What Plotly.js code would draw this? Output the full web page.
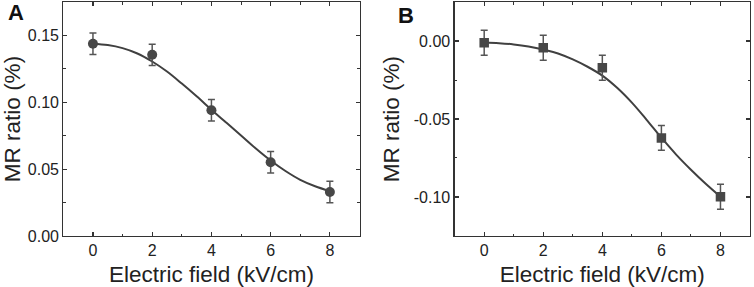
<!DOCTYPE html>
<html>
<head>
<meta charset="utf-8">
<script src="https://cdn.plot.ly/plotly-3.0.1.min.js"></script>
<style>html,body{margin:0;padding:0;background:#fff;}#chart{width:754px;height:287px;}</style>
</head>
<body>
<div id="chart"></div>
<script>
// ---- data ----
const fieldX = [0, 2, 4, 6, 8];
const mrA = [0.1438, 0.1355, 0.0940, 0.0552, 0.0329];
const errA = [0.008, 0.008, 0.008, 0.008, 0.008];
const mrB = [-0.0011, -0.0043, -0.0172, -0.0621, -0.0998];
const errB = [0.008, 0.008, 0.008, 0.008, 0.008];

const fitX = [0, 0.5, 1, 1.5, 2, 2.5, 3, 3.5, 4, 4.5, 5, 5.5, 6, 6.5, 7, 7.5, 8];
const fitA = [0.1438, 0.1428, 0.1405, 0.1365, 0.1305, 0.1230, 0.1140, 0.1045, 0.0945, 0.0848, 0.0752, 0.0655, 0.0565, 0.0486, 0.0420, 0.0372, 0.0336];
const fitB = [-0.0010, -0.0014, -0.0022, -0.0035, -0.0054, -0.0080, -0.0118, -0.0165, -0.0222, -0.0300, -0.0395, -0.0505, -0.0620, -0.0728, -0.0825, -0.0915, -0.0998];

const xTickVals = [0, 2, 4, 6, 8];
const xTickText = ['0', '2', '4', '6', '8'];
const yTickValsA = [0, 0.05, 0.10, 0.15];
const yTickTextA = ['0.00', '0.05', '0.10', '0.15'];
const yTickValsB = [-0.10, -0.05, 0.00];
const yTickTextB = ['-0.10', '-0.05', '0.00'];

const xTitle = 'Electric field (kV/cm)';
const yTitle = 'MR ratio (%)';
const panelLabels = ['A', 'B'];

// ---- style ----
const FONT = 'Liberation Sans, Arial, sans-serif';
const markColor = '#474747';
const lineColor = '#404040';
const axColor = '#333333';

const traces = [
  {x: fitX, y: fitA, xaxis: 'x', yaxis: 'y', mode: 'lines', line: {color: lineColor, width: 2, shape: 'spline'}, hoverinfo: 'skip'},
  {x: fieldX, y: mrA, xaxis: 'x', yaxis: 'y', mode: 'markers',
   marker: {symbol: 'circle', size: 10, color: markColor},
   error_y: {type: 'data', array: errA, visible: true, color: '#555555', thickness: 1.5, width: 3.5}},
  {x: fitX, y: fitB, xaxis: 'x2', yaxis: 'y2', mode: 'lines', line: {color: lineColor, width: 2, shape: 'spline'}, hoverinfo: 'skip'},
  {x: fieldX, y: mrB, xaxis: 'x2', yaxis: 'y2', mode: 'markers',
   marker: {symbol: 'square', size: 9.5, color: markColor},
   error_y: {type: 'data', array: errB, visible: true, color: '#555555', thickness: 1.5, width: 3.5}}
];

function xAxis(domain, anchor) {
  return {
    domain: domain, anchor: anchor, range: [-1, 9],
    tickmode: 'array', tickvals: xTickVals, ticktext: xTickText,
    ticks: 'inside', ticklen: 4, tickwidth: 1.2, tickcolor: axColor,
    minor: {dtick: 1, tick0: 1, ticks: 'inside', ticklen: 2.5, tickwidth: 1, tickcolor: axColor, showgrid: false},
    showline: true, linecolor: axColor, linewidth: 1.2, mirror: 'ticks',
    showgrid: false, zeroline: false,
    tickfont: {family: FONT, size: 16, color: '#222'},
    title: {text: xTitle, font: {family: FONT, size: 22.5, color: '#222'}}
  };
}
function yAxis(domain, anchor, range, vals, text, dt0) {
  return {
    domain: domain, anchor: anchor, range: range,
    tickmode: 'array', tickvals: vals, ticktext: text,
    ticks: 'inside', ticklen: 4, tickwidth: 1.2, tickcolor: axColor,
    minor: {dtick: 0.025, tick0: dt0, ticks: 'inside', ticklen: 2.5, tickwidth: 1, tickcolor: axColor, showgrid: false},
    showline: true, linecolor: axColor, linewidth: 1.2, mirror: 'ticks',
    showgrid: false, zeroline: false,
    tickfont: {family: FONT, size: 16, color: '#222'},
    title: {text: yTitle, font: {family: FONT, size: 22.5, color: '#222'}, standoff: 8}
  };
}

const H = 287, W = 754;
const yDom = [0.1777, 0.993];
const layout = {
  width: W, height: H,
  margin: {l: 0, r: 0, t: 0, b: 0},
  paper_bgcolor: '#ffffff', plot_bgcolor: '#ffffff',
  showlegend: false,
  xaxis: xAxis([0.084, 0.4768], 'y'),
  yaxis: yAxis(yDom, 'x', [0, 0.175], yTickValsA, yTickTextA, 0.025),
  xaxis2: xAxis([0.603, 0.9947], 'y2'),
  yaxis2: yAxis(yDom, 'x2', [-0.125, 0.025], yTickValsB, yTickTextB, -0.125),
  annotations: [
    {text: '<b>' + panelLabels[0] + '</b>', xref: 'paper', yref: 'paper', x: 15.5 / W, y: 1 - 12.5 / H,
     xanchor: 'center', yanchor: 'middle', showarrow: false, font: {family: FONT, size: 22, color: '#111'}},
    {text: '<b>' + panelLabels[1] + '</b>', xref: 'paper', yref: 'paper', x: 405.5 / W, y: 1 - 15 / H,
     xanchor: 'center', yanchor: 'middle', showarrow: false, font: {family: FONT, size: 22, color: '#111'}}
  ]
};

Plotly.newPlot('chart', traces, layout, {staticPlot: true, displayModeBar: false});
</script>
</body>
</html>
